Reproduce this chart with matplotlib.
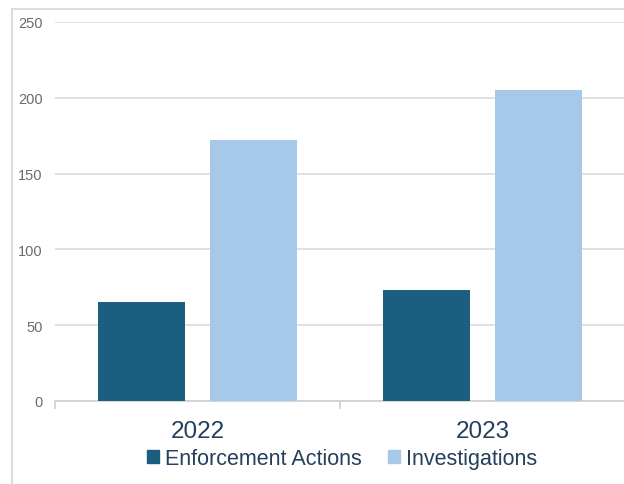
import matplotlib
matplotlib.use("Agg")
import matplotlib.pyplot as plt
import matplotlib.patches as mpatches
import numpy as np

years = ["2022", "2023"]
enforcement = [65, 73]
investigations = [172, 205]
series_names = ["Enforcement Actions", "Investigations"]
colors = ["#1a5e80", "#a6c9ea"]

plt.rcParams["font.family"] = ["Liberation Sans", "DejaVu Sans"]

fig = plt.figure(figsize=(6.24, 4.85), dpi=100)
W, H = 624, 485

# light frame around chart area (cut at right / bottom like the screenshot)
fig.patches.append(mpatches.Rectangle((12 / W, -0.05), 1.1, 1 - 10 / H + 0.05,
                                      transform=fig.transFigure, fill=False,
                                      edgecolor="#dcdcdc", linewidth=1.5, zorder=0))

ax = fig.add_axes([55 / W, 83 / H, 570 / W, 379 / H])

x = np.arange(len(years))
width = 0.305
offset = 0.195
ax.bar(x - offset, enforcement, width, color=colors[0], zorder=3)
ax.bar(x + offset, investigations, width, color=colors[1], zorder=3)

ax.set_xlim(-0.5, 1.5)
ax.set_ylim(0, 250)
ax.set_yticks(np.arange(0, 251, 50))
ax.yaxis.grid(True, color="#dcdcdc", linewidth=1.2, zorder=0)
ax.set_axisbelow(True)

for s in ["top", "right", "left"]:
    ax.spines[s].set_visible(False)
ax.spines["bottom"].set_color("#d0d0d0")
ax.spines["bottom"].set_linewidth(1.2)

ax.tick_params(axis="y", length=0, pad=9, labelsize=10.5, labelcolor="#6b6b6b")
ax.set_xticks(x)
ax.set_xticklabels(years)
ax.tick_params(axis="x", which="major", length=0, pad=14, labelsize=17.5, labelcolor="#243f5c")
ax.set_xticks([-0.5, 0.5, 1.5], minor=True)
ax.tick_params(axis="x", which="minor", length=6, color="#d0d0d0", width=1.2)

handles = [mpatches.Patch(color=c) for c in colors]
fig.legend(handles, series_names, loc="center", bbox_to_anchor=(342 / W, 25 / H),
           ncol=2, frameon=False, fontsize=15.5, handlelength=0.56, handleheight=0.56,
           handletextpad=0.3, columnspacing=1.2, labelcolor="#243f5c")

fig.savefig("out.png", dpi=100)
